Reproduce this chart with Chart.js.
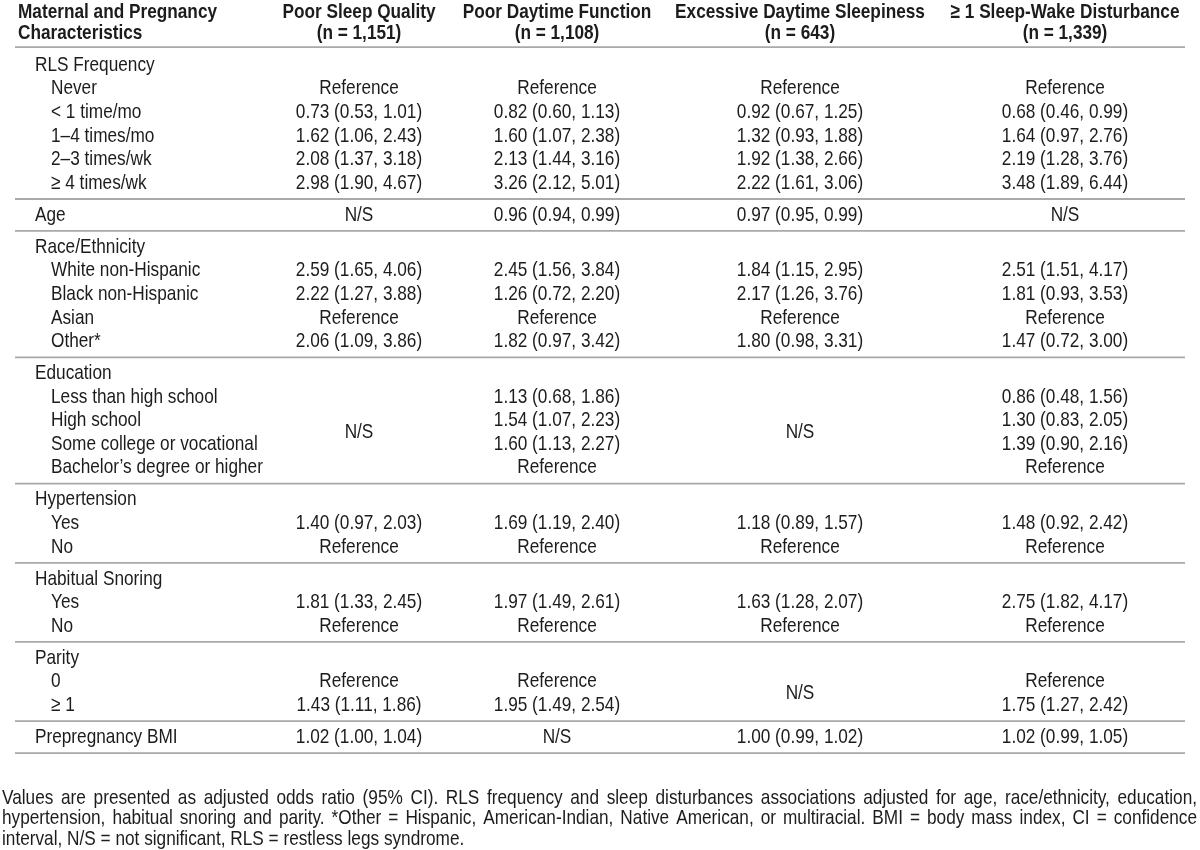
<!DOCTYPE html>
<html>
<head>
<meta charset="utf-8">
<title>RLS frequency and sleep-wake disturbances</title>
<script src="https://cdn.jsdelivr.net/npm/chart.js@4.4.1/dist/chart.umd.min.js"></script>
<style>
  html, body { margin: 0; padding: 0; background: #fff; }
  canvas { display: block; }
</style>
</head>
<body>
<canvas id="table" width="1200" height="850"></canvas>
<script>
// ---- data ----
const stubHeader = ["Maternal and Pregnancy", "Characteristics"];
const columnHeaders = [
  ["Poor Sleep Quality", "(n = 1,151)"],
  ["Poor Daytime Function", "(n = 1,108)"],
  ["Excessive Daytime Sleepiness", "(n = 643)"],
  ["\u2265 1 Sleep-Wake Disturbance", "(n = 1,339)"],
];

const rowLabels = [
  "RLS Frequency", "Never", "< 1 time/mo", "1\u20134 times/mo", "2\u20133 times/wk", "\u2265 4 times/wk",
  "Age",
  "Race/Ethnicity", "White non-Hispanic", "Black non-Hispanic", "Asian", "Other*",
  "Education", "Less than high school", "High school", "Some college or vocational", "Bachelor\u2019s degree or higher",
  "Hypertension", "Yes", "No",
  "Habitual Snoring", "Yes", "No",
  "Parity", "0", "\u2265 1",
  "Prepregnancy BMI",
];
const rowIsSub = [0, 1, 1, 1, 1, 1, 0, 0, 1, 1, 1, 1, 0, 1, 1, 1, 1, 0, 1, 1, 0, 1, 1, 0, 1, 1, 0];
const groupStarts = [0, 6, 7, 12, 17, 20, 23, 26];

const R = "Reference";
const NS = "N/S";
// adjusted odds ratio [OR, lower, upper]
const poorSleepQuality = [
  null, R, [0.73, 0.53, 1.01], [1.62, 1.06, 2.43], [2.08, 1.37, 3.18], [2.98, 1.90, 4.67],
  NS,
  null, [2.59, 1.65, 4.06], [2.22, 1.27, 3.88], R, [2.06, 1.09, 3.86],
  null, null, null, null, null,
  null, [1.40, 0.97, 2.03], R,
  null, [1.81, 1.33, 2.45], R,
  null, R, [1.43, 1.11, 1.86],
  [1.02, 1.00, 1.04],
];
const poorDaytimeFunction = [
  null, R, [0.82, 0.60, 1.13], [1.60, 1.07, 2.38], [2.13, 1.44, 3.16], [3.26, 2.12, 5.01],
  [0.96, 0.94, 0.99],
  null, [2.45, 1.56, 3.84], [1.26, 0.72, 2.20], R, [1.82, 0.97, 3.42],
  null, [1.13, 0.68, 1.86], [1.54, 1.07, 2.23], [1.60, 1.13, 2.27], R,
  null, [1.69, 1.19, 2.40], R,
  null, [1.97, 1.49, 2.61], R,
  null, R, [1.95, 1.49, 2.54],
  NS,
];
const excessiveDaytimeSleepiness = [
  null, R, [0.92, 0.67, 1.25], [1.32, 0.93, 1.88], [1.92, 1.38, 2.66], [2.22, 1.61, 3.06],
  [0.97, 0.95, 0.99],
  null, [1.84, 1.15, 2.95], [2.17, 1.26, 3.76], R, [1.80, 0.98, 3.31],
  null, null, null, null, null,
  null, [1.18, 0.89, 1.57], R,
  null, [1.63, 1.28, 2.07], R,
  null, null, null,
  [1.00, 0.99, 1.02],
];
const sleepWakeDisturbance = [
  null, R, [0.68, 0.46, 0.99], [1.64, 0.97, 2.76], [2.19, 1.28, 3.76], [3.48, 1.89, 6.44],
  NS,
  null, [2.51, 1.51, 4.17], [1.81, 0.93, 3.53], R, [1.47, 0.72, 3.00],
  null, [0.86, 0.48, 1.56], [1.30, 0.83, 2.05], [1.39, 0.90, 2.16], R,
  null, [1.48, 0.92, 2.42], R,
  null, [2.75, 1.82, 4.17], R,
  null, R, [1.75, 1.27, 2.42],
  [1.02, 0.99, 1.05],
];
const seriesColumns = [poorSleepQuality, poorDaytimeFunction, excessiveDaytimeSleepiness, sleepWakeDisturbance];
// cells spanning several rows: [column, first row, last row, text]
const mergedCells = [[0, 13, 16, NS], [2, 13, 16, NS], [2, 24, 25, NS]];

const footnote = [
  "Values are presented as adjusted odds ratio (95% CI). RLS frequency and sleep disturbances associations adjusted for age, race/ethnicity, education,",
  "hypertension, habitual snoring and parity. *Other = Hispanic, American-Indian, Native American, or multiracial. BMI = body mass index, CI = confidence",
  "interval, N/S = not significant, RLS = restless legs syndrome.",
];

// ---- layout ----
const FONT_SIZE = 21;
const NARROW = 0.82;          // condense Liberation Sans to look like Arial Narrow
const TEXT = "#1c1c1c";
const RULE = "#a9a9a9";
const colCenters = [359, 557, 800, 1065];
const stubX = 18, groupX = 35, subX = 51;
const ruleLeft = 15, ruleRight = 1185;
const ROW_PX = 23.6, FIRST_ROW_PX = 65;
const GAP = 0.354;            // extra space between groups, in rows

function rowPos(r) {
  let g = 0;
  for (const s of groupStarts) if (s > 0 && s <= r) g++;
  return r + g * GAP;
}
function fmt(cell) {
  if (Array.isArray(cell)) {
    return cell[0].toFixed(2) + " (" + cell[1].toFixed(2) + ", " + cell[2].toFixed(2) + ")";
  }
  return cell;
}

function setFont(ctx, bold) {
  ctx.font = (bold ? "bold " : "") + FONT_SIZE + 'px "Liberation Sans", Arial, sans-serif';
}
function textWidth(ctx, str) {
  return ctx.measureText(str).width * NARROW;
}
function drawText(ctx, str, x, y, align, bold) {
  setFont(ctx, bold);
  const w = textWidth(ctx, str);
  let left = x;
  if (align === "center") left = x - w / 2;
  else if (align === "right") left = x - w;
  ctx.save();
  ctx.translate(left, y);
  ctx.scale(NARROW, 1);
  ctx.textAlign = "left";
  ctx.textBaseline = "middle";
  ctx.fillStyle = TEXT;
  ctx.fillText(str, 0, 0);
  ctx.restore();
}
function drawJustified(ctx, str, x0, x1, y) {
  setFont(ctx, false);
  const words = str.split(" ");
  const widths = words.map((w) => textWidth(ctx, w));
  const total = widths.reduce((a, b) => a + b, 0);
  const gap = (x1 - x0 - total) / (words.length - 1);
  let x = x0;
  words.forEach((w, i) => {
    drawText(ctx, w, x, y, "left", false);
    x += widths[i] + gap;
  });
}

// ---- datasets: one point per table cell, drawn as text ----
const datasets = [];
datasets.push({
  label: "stub",
  texts: rowLabels,
  align: "left",
  data: rowLabels.map((_, r) => ({ x: rowIsSub[r] ? subX : groupX, y: rowPos(r) })),
});
seriesColumns.forEach((col, c) => {
  const texts = [];
  const data = [];
  col.forEach((cell, r) => {
    if (cell === null) return;
    texts.push(fmt(cell));
    data.push({ x: colCenters[c], y: rowPos(r) });
  });
  mergedCells.filter((m) => m[0] === c).forEach((m) => {
    texts.push(m[3]);
    data.push({ x: colCenters[c], y: (rowPos(m[1]) + rowPos(m[2])) / 2 });
  });
  datasets.push({ label: columnHeaders[c][0], texts, align: "center", data });
});
datasets.forEach((d) => { d.pointRadius = 0; d.showLine = false; });

const yMin = -FIRST_ROW_PX / ROW_PX;
const yMax = yMin + 850 / ROW_PX;

const tablePlugin = {
  id: "tablePlugin",
  beforeDatasetsDraw(chart) {
    const ctx = chart.ctx;
    const y = chart.scales.y;
    ctx.save();
    ctx.strokeStyle = RULE;
    ctx.lineWidth = 1.8;
    const rules = [y.getPixelForValue(rowPos(0) - 0.76)];
    groupStarts.slice(1).forEach((s) => {
      rules.push(y.getPixelForValue((rowPos(s) + rowPos(s - 1)) / 2));
    });
    const last = rowLabels.length - 1;
    rules.push(y.getPixelForValue(rowPos(last) + 0.5 + GAP / 2));
    rules.forEach((py) => {
      ctx.beginPath();
      ctx.moveTo(ruleLeft, py);
      ctx.lineTo(ruleRight, py);
      ctx.stroke();
    });
    ctx.restore();
  },
  afterDatasetsDraw(chart) {
    const ctx = chart.ctx;
    chart.data.datasets.forEach((ds, i) => {
      const meta = chart.getDatasetMeta(i);
      meta.data.forEach((pt, j) => {
        drawText(ctx, ds.texts[j], pt.x, pt.y, ds.align, false);
      });
    });
    // header
    const h1 = 12.5, h2 = 33.5;
    drawText(ctx, stubHeader[0], stubX, h1, "left", true);
    drawText(ctx, stubHeader[1], stubX, h2, "left", true);
    columnHeaders.forEach((h, c) => {
      const x = chart.scales.x.getPixelForValue(colCenters[c]);
      drawText(ctx, h[0], x, h1, "center", true);
      drawText(ctx, h[1], x, h2, "center", true);
    });
    // footnote
    const fy = [798, 818.5, 839];
    drawJustified(ctx, footnote[0], 2, 1197, fy[0]);
    drawJustified(ctx, footnote[1], 2, 1197, fy[1]);
    drawText(ctx, footnote[2], 2, fy[2], "left", false);
  },
};

new Chart(document.getElementById("table"), {
  type: "scatter",
  data: { datasets },
  options: {
    responsive: false,
    animation: false,
    devicePixelRatio: 1,
    layout: { padding: 0 },
    plugins: { legend: { display: false }, tooltip: { enabled: false } },
    scales: {
      x: { type: "linear", display: false, min: 0, max: 1200 },
      y: { type: "linear", display: false, reverse: true, min: yMin, max: yMax },
    },
  },
  plugins: [tablePlugin],
});
</script>
</body>
</html>
